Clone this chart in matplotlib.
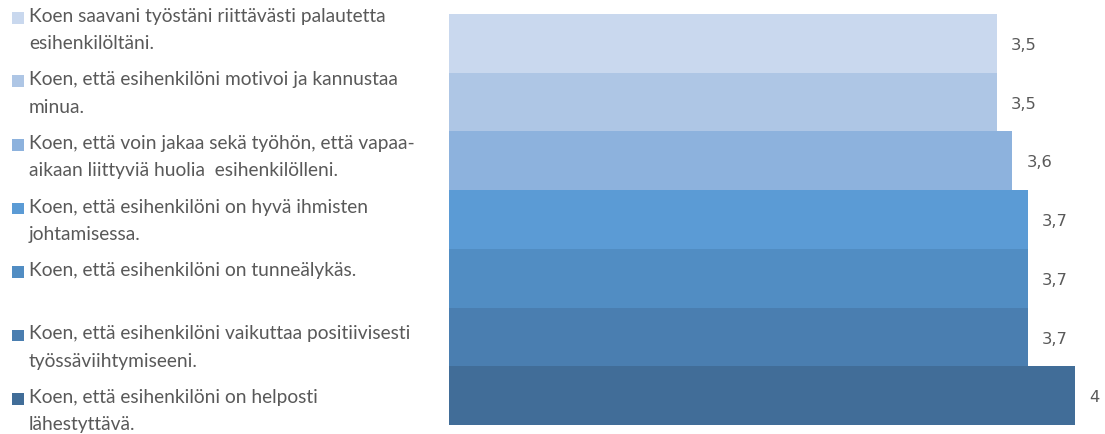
import matplotlib.pyplot as plt
from matplotlib.patches import Rectangle

# survey statements, bottom bar first
statements = [
    "Koen, että esihenkilöni on helposti\nlähestyttävä.",
    "Koen, että esihenkilöni vaikuttaa positiivisesti\ntyössäviihtymiseeni.",
    "Koen, että esihenkilöni on tunneälykäs.",
    "Koen, että esihenkilöni on hyvä ihmisten\njohtamisessa.",
    "Koen, että voin jakaa sekä työhön, että vapaa-\naikaan liittyviä huolia  esihenkilölleni.",
    "Koen, että esihenkilöni motivoi ja kannustaa\nminua.",
    "Koen saavani työstäni riittävästi palautetta\nesihenkilöltäni.",
]
scores = [4.0, 3.7, 3.7, 3.7, 3.6, 3.5, 3.5]
colors = ["#416D98", "#4A7EB0", "#518DC3", "#5B9BD5",
          "#8DB2DD", "#AEC6E5", "#C9D8EE"]

W, H = 1105, 434
fig = plt.figure(figsize=(W / 100, H / 100), dpi=100)

# bar area in pixels
x0, y_top, y_bot = 449, 14, 425
px_per_unit = (1075 - x0) / 4.0
ax = fig.add_axes([x0 / W, (H - y_bot) / H, (W - x0) / W, (y_bot - y_top) / H])
ax.barh(range(len(scores)), scores, height=1.0, color=colors, linewidth=0)
ax.set_xlim(0, (W - x0) / px_per_unit)
ax.set_ylim(-0.5, len(scores) - 0.5)
ax.axis("off")

for i, v in enumerate(scores):
    label = f"{v:g}".replace(".", ",")
    ax.annotate(label, (v, i), xytext=(10, -1.5), textcoords="offset points",
                va="center", ha="left", fontsize=11.8, color="#595959",
                family="DejaVu Sans")

# legend on the left, top item first
step = 63.5
for k, (text, c) in enumerate(zip(statements[::-1], colors[::-1])):
    yc = 18 + k * step
    fig.patches.append(Rectangle((12 / W, 1 - (yc + 5.5) / H), 11.5 / W, 11.5 / H,
                                 transform=fig.transFigure, facecolor=c,
                                 edgecolor="none"))
    fig.text(29 / W, 1 - (yc - 10) / H, text, ha="left", va="top",
             fontsize=13.8, color="#595959", family="Lato", linespacing=1.72)

fig.savefig("out.png", dpi=100)
